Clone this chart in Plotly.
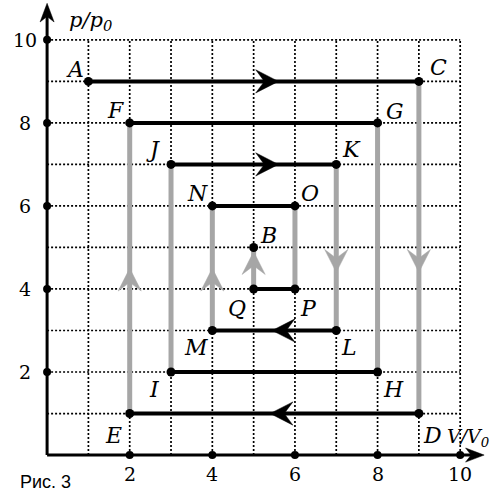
import plotly.graph_objects as go

# State points of the p-V diagram (V/V0, p/p0)
point_names = ["A", "B", "C", "D", "E", "F", "G", "H", "I",
               "J", "K", "L", "M", "N", "O", "P", "Q"]
point_v = [1, 5, 9, 9, 2, 2, 8, 8, 3, 3, 7, 7, 4, 4, 6, 6, 5]
point_p = [9, 5, 9, 1, 1, 8, 8, 2, 2, 7, 7, 3, 3, 6, 6, 4, 4]

# Isobaric (horizontal) and isochoric (vertical) segments
isobars = [("A", "C"), ("F", "G"), ("J", "K"), ("N", "O"),
           ("Q", "P"), ("M", "L"), ("I", "H"), ("E", "D")]
isochores = [("E", "F"), ("I", "J"), ("M", "N"), ("Q", "B"),
             ("O", "P"), ("K", "L"), ("G", "H"), ("C", "D")]

# Direction arrows on the process lines
arrow_tip_v = [5.6, 5.6, 5.45, 5.4, 2, 4, 5, 7, 9]
arrow_tip_p = [9, 7, 3, 1, 4.5, 4.5, 4.9, 4.4, 4.4]
arrow_dir = ["right", "right", "left", "left", "up", "up", "up", "down", "down"]
arrow_color = ["black", "black", "black", "black",
               "#a6a6a6", "#a6a6a6", "#a6a6a6", "#a6a6a6", "#a6a6a6"]

tick_values = [2, 4, 6, 8, 10]

# ---------------------------------------------------------------------------
pos = {n: (v, p) for n, v, p in zip(point_names, point_v, point_p)}

DIRS = {"right": (1, 0), "left": (-1, 0), "up": (0, 1), "down": (0, -1)}


def stealth(x, y, d, length=0.55, half=0.28, notch=0.62):
    dx, dy = DIRS[d]
    nx, ny = -dy, dx
    bx, by = x - length * dx, y - length * dy
    mx, my = x - notch * length * dx, y - notch * length * dy
    xs = [x, bx + half * nx, mx, bx - half * nx, x]
    ys = [y, by + half * ny, my, by - half * ny, y]
    return xs, ys


fig = go.Figure()
shapes = []

# dotted grid
for k in range(1, 11):
    shapes.append(dict(type="line", x0=k, x1=k, y0=0, y1=10, layer="below",
                       line=dict(color="black", width=1.7, dash="2px,2px")))
    shapes.append(dict(type="line", x0=0, x1=10, y0=k, y1=k, layer="below",
                       line=dict(color="black", width=1.7, dash="2px,2px")))

# axes
shapes.append(dict(type="line", x0=0, x1=10.45, y0=0, y1=0,
                   line=dict(color="black", width=3)))
shapes.append(dict(type="line", x0=0, x1=0, y0=0, y1=10.75,
                   line=dict(color="black", width=3)))
fig.update_layout(shapes=shapes)

for xs, ys in [stealth(10.58, 0, "right", 0.45, 0.17, 0.7),
               stealth(0, 10.88, "up", 0.45, 0.17, 0.7)]:
    fig.add_trace(go.Scatter(x=xs, y=ys, fill="toself", fillcolor="black",
                             mode="lines", line=dict(color="black", width=0.5),
                             hoverinfo="skip", showlegend=False))

# isochores (grey)
for a, b in isochores:
    fig.add_trace(go.Scatter(x=[pos[a][0], pos[b][0]], y=[pos[a][1], pos[b][1]],
                             mode="lines", line=dict(color="#a6a6a6", width=5),
                             hoverinfo="skip", showlegend=False))

# isobars (black)
for a, b in isobars:
    fig.add_trace(go.Scatter(x=[pos[a][0], pos[b][0]], y=[pos[a][1], pos[b][1]],
                             mode="lines", line=dict(color="black", width=4),
                             hoverinfo="skip", showlegend=False))

# arrowheads
for x, y, d, c in zip(arrow_tip_v, arrow_tip_p, arrow_dir, arrow_color):
    xs, ys = stealth(x, y, d)
    fig.add_trace(go.Scatter(x=xs, y=ys, fill="toself", fillcolor=c,
                             mode="lines", line=dict(color=c, width=0.5),
                             hoverinfo="skip", showlegend=False))

# state points
fig.add_trace(go.Scatter(x=point_v, y=point_p, mode="markers",
                         marker=dict(color="black", size=9),
                         hoverinfo="skip", showlegend=False))

# tick dots on the axes
fig.add_trace(go.Scatter(x=tick_values + [0] * len(tick_values),
                         y=[0] * len(tick_values) + tick_values, mode="markers",
                         marker=dict(color="black", size=8),
                         hoverinfo="skip", showlegend=False))

annotations = []
serif = "DejaVu Serif"

# point letters, placed beside each point
label_offset = {
    "A": (-0.32, 0.28), "B": (0.35, 0.3), "C": (0.47, 0.33), "D": (0.32, -0.52),
    "E": (-0.4, -0.52), "F": (-0.35, 0.31), "G": (0.43, 0.27), "H": (0.38, -0.43),
    "I": (-0.39, -0.43), "J": (-0.43, 0.35), "K": (0.38, 0.35), "L": (0.31, -0.42),
    "M": (-0.39, -0.42), "N": (-0.37, 0.31), "O": (0.37, 0.31), "P": (0.32, -0.46),
    "Q": (-0.4, -0.46),
}
for n in point_names:
    dx, dy = label_offset[n]
    annotations.append(dict(x=pos[n][0] + dx, y=pos[n][1] + dy, text=n,
                            showarrow=False,
                            font=dict(family=serif, size=22, color="black",
                                      style="italic")))

for t in tick_values:
    annotations.append(dict(x=t, y=-0.45, text=str(t), showarrow=False,
                            font=dict(family=serif, size=19, color="black")))
    annotations.append(dict(x=-0.53, y=t, text=str(t), showarrow=False,
                            font=dict(family=serif, size=19, color="black")))

annotations.append(dict(x=1.05, y=10.45, text="p/p<sub>0</sub>", showarrow=False,
                        font=dict(family=serif, size=21, color="black",
                                  style="italic")))
annotations.append(dict(x=1.0, y=0.42, xref="paper", xanchor="right",
                        text="V/V<sub>0</sub>", showarrow=False,
                        font=dict(family=serif, size=19, color="black",
                                  style="italic")))
annotations.append(dict(x=0.0, y=0.0, xref="paper", yref="paper",
                        xanchor="left", yanchor="bottom", xshift=18, yshift=-2,
                        text="Рис. 3", showarrow=False,
                        font=dict(family="Liberation Sans", size=18, color="black")))

fig.update_layout(
    width=492, height=492,
    margin=dict(l=0, r=0, t=0, b=0),
    paper_bgcolor="white", plot_bgcolor="white",
    annotations=annotations,
    xaxis=dict(range=[-1.14, 10.77], visible=False, fixedrange=True),
    yaxis=dict(range=[-0.89, 10.96], visible=False, fixedrange=True),
)

fig.write_html("out.html")
